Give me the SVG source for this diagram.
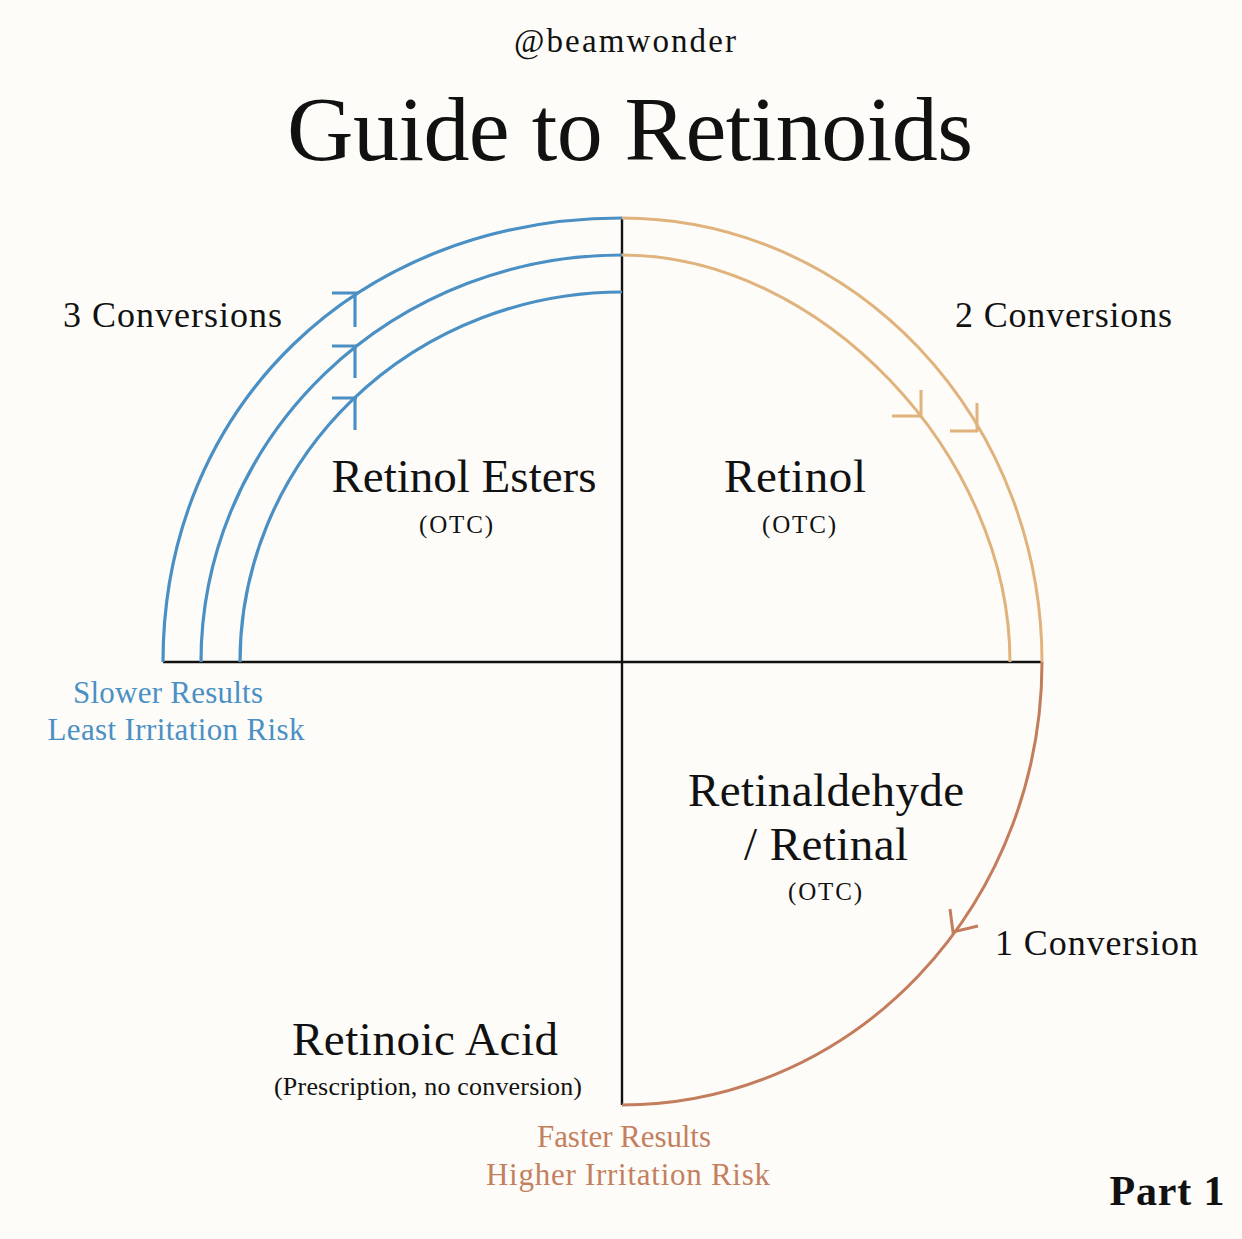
<svg xmlns="http://www.w3.org/2000/svg" width="1242" height="1239" viewBox="0 0 1242 1239">
<style>
text{font-family:"Liberation Serif","DejaVu Serif",serif;fill:#111}
.c{text-anchor:middle}
.blue{stroke:#4a90c4;stroke-width:3.2;fill:none}
.org{stroke:#e0b37c;stroke-width:3;fill:none}
.brn{stroke:#c47d5c;stroke-width:3;fill:none}
.ax{stroke:#111;stroke-width:2.4;fill:none}
.bt{fill:#4a90c4}
.rt{fill:#c4805e}
</style>
<rect width="1242" height="1239" fill="#fdfcf9"/>
<g id="header">
<text x="625" y="52" class="c" font-size="33" textLength="222">@beamwonder</text>
<text x="630" y="160" class="c" font-size="92" textLength="686">Guide to Retinoids</text>
</g>
<g id="connectors">
<line class="ax" x1="622" y1="218" x2="622" y2="1105"/>
<line class="ax" x1="163" y1="662" x2="1042" y2="662"/>
<path class="blue" d="M163 662 C163 406.7 358 218 622 218"/>
<path class="blue" d="M201 662 A421 407 0 0 1 622 255"/>
<path class="blue" d="M240 662 A382 370 0 0 1 622 292"/>
<path class="blue" d="M332 293 H358 M355 293 V327"/>
<path class="blue" d="M332 346 H357 M355 346 V378"/>
<path class="blue" d="M332 398 H357 M355 398 V430"/>
<path class="org" d="M622 218 A420 444 0 0 1 1042 662"/>
<path class="org" d="M622 255 C820 255 1010 454 1010 662"/>
<path class="org" d="M892 416 H922 M921 390 V418"/>
<path class="org" d="M950 431 H978 M977 403 V432"/>
<path class="brn" d="M1042 662 A420 443 0 0 1 622 1105"/>
<path class="brn" d="M950 909 L953 932 L978 926"/>
</g>
<g id="label-3conv"><text x="63" y="327" font-size="36" textLength="219">3 Conversions</text></g>
<g id="label-2conv"><text x="955" y="327" font-size="36" textLength="217">2 Conversions</text></g>
<g id="label-1conv"><text x="995" y="955" font-size="36" textLength="203">1 Conversion</text></g>
<g id="node-esters">
<text x="464" y="492" class="c" font-size="47" textLength="265">Retinol Esters</text>
<text x="456" y="533" class="c" font-size="25" textLength="74">(OTC)</text>
</g>
<g id="node-retinol">
<text x="795" y="492" class="c" font-size="47" textLength="142">Retinol</text>
<text x="799" y="533" class="c" font-size="25" textLength="74">(OTC)</text>
</g>
<g id="node-retinal">
<text x="826" y="806" class="c" font-size="47" textLength="276">Retinaldehyde</text>
<text x="826" y="860" class="c" font-size="47" textLength="164">/ Retinal</text>
<text x="825" y="900" class="c" font-size="25" textLength="74">(OTC)</text>
</g>
<g id="node-acid">
<text x="425" y="1055" class="c" font-size="47" textLength="266">Retinoic Acid</text>
<text x="428" y="1095" class="c" font-size="26" textLength="308">(Prescription, no conversion)</text>
</g>
<g id="label-slower">
<text x="168" y="703" class="c bt" font-size="31" textLength="190">Slower Results</text>
<text x="176" y="740" class="c bt" font-size="31" textLength="257">Least Irritation Risk</text>
</g>
<g id="label-faster">
<text x="624" y="1147" class="c rt" font-size="31" textLength="174">Faster Results</text>
<text x="628" y="1185" class="c rt" font-size="31" textLength="284">Higher Irritation Risk</text>
</g>
<g id="footer"><text x="1167" y="1205" class="c" font-size="42" font-weight="bold" textLength="115">Part 1</text></g>
</svg>
